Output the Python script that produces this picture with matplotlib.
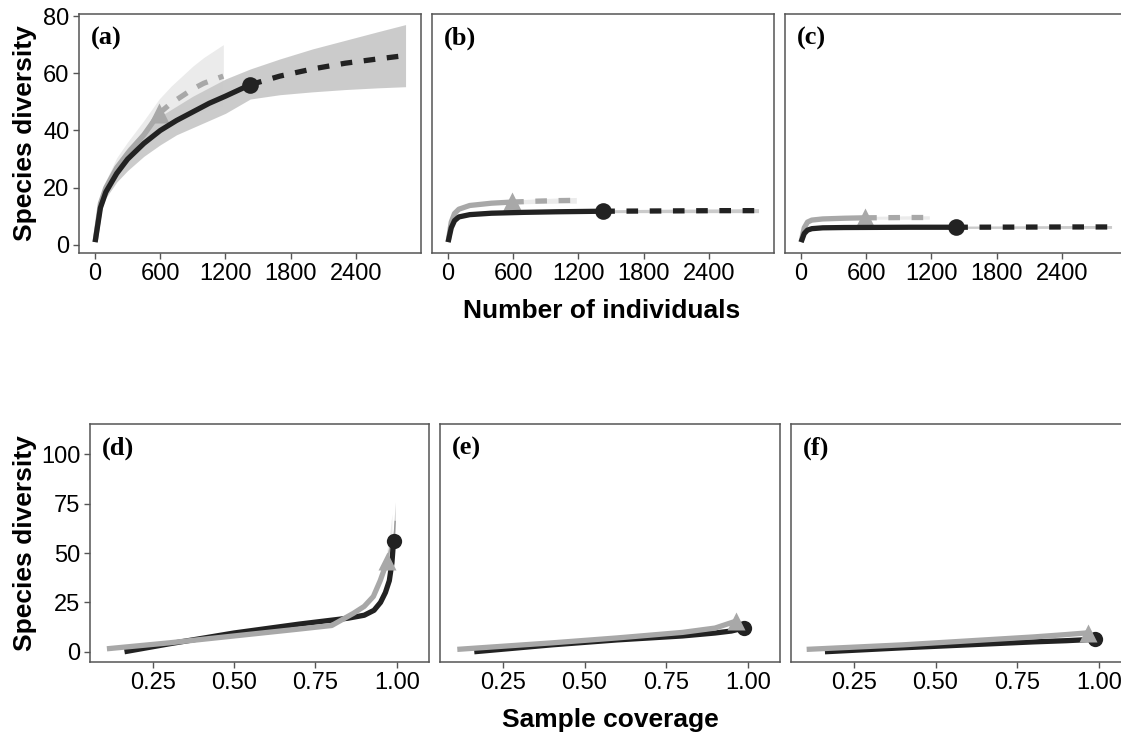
import matplotlib
matplotlib.use("Agg")
import matplotlib.pyplot as plt
import numpy as np

plt.rcParams['font.family'] = ['Liberation Sans', 'DejaVu Sans']

# ---------------- data: size-based (top row) ----------------
# panel (a)
a_blk_n = [1, 50, 100, 200, 300, 450, 600, 750, 900, 1050, 1200, 1428]
a_blk_y = [1, 13, 18.5, 25, 30, 35.5, 40, 43.5, 46.5, 49.5, 52, 56]
a_blk_ext_n = [1428, 1700, 2000, 2300, 2600, 2856]
a_blk_ext_y = [56, 59, 61.5, 63.5, 65, 66.2]
a_blk_ci_n = [1, 50, 100, 200, 300, 450, 600, 750, 900, 1050, 1200, 1428, 1700, 2000, 2300, 2600, 2856]
a_blk_lo = [1, 11.5, 16.5, 22, 26, 31, 35, 38.5, 41, 43.5, 46, 51, 52.5, 53.5, 54.3, 54.9, 55.3]
a_blk_hi = [1, 14.5, 20.5, 28, 34, 40, 45, 48.5, 52, 55, 58, 61.5, 65, 68.5, 71.5, 74.5, 77]
a_gry_n = [1, 50, 100, 200, 300, 450, 590]
a_gry_y = [1, 14.5, 20, 27, 32, 38.5, 46]
a_gry_ext_n = [590, 700, 800, 900, 1000, 1180]
a_gry_ext_y = [46, 49.5, 52, 54.5, 56.5, 59]
a_gry_ci_n = [1, 50, 100, 200, 300, 450, 590, 700, 800, 900, 1000, 1180]
a_gry_lo = [1, 12.5, 17.5, 24, 28.5, 34, 39, 41.5, 43.5, 45, 46.5, 48.5]
a_gry_hi = [1, 16.5, 22.5, 30.5, 36, 43.5, 51, 55.5, 59, 62.5, 65.5, 70]

# panel (b)
b_blk_n = [1, 30, 60, 100, 200, 400, 700, 1000, 1428]
b_blk_y = [1, 6, 8.5, 9.8, 10.6, 11.1, 11.4, 11.6, 11.8]
b_blk_ext_n = [1428, 2000, 2500, 2856]
b_blk_ext_y = [11.8, 11.9, 12, 12]
b_blk_ci_n = [1428, 2000, 2500, 2856]
b_blk_lo = [11.3, 11.3, 11.3, 11.3]
b_blk_hi = [12.3, 12.5, 12.6, 12.7]
b_gry_n = [1, 30, 60, 100, 200, 400, 590]
b_gry_y = [1, 8, 11, 12.5, 13.8, 14.6, 15]
b_gry_ext_n = [590, 800, 1000, 1180]
b_gry_ext_y = [15, 15.3, 15.5, 15.6]
b_gry_ci_n = [590, 800, 1000, 1180]
b_gry_lo = [14.3, 14.5, 14.6, 14.6]
b_gry_hi = [15.7, 16.1, 16.4, 16.6]

# panel (c)
c_blk_n = [1, 30, 60, 100, 200, 400, 700, 1000, 1428]
c_blk_y = [1, 4, 5.2, 5.7, 6.0, 6.1, 6.15, 6.2, 6.2]
c_blk_ext_n = [1428, 2000, 2500, 2856]
c_blk_ext_y = [6.2, 6.25, 6.3, 6.3]
c_blk_ci_n = [1428, 2000, 2500, 2856]
c_blk_lo = [5.8, 5.8, 5.8, 5.8]
c_blk_hi = [6.6, 6.7, 6.8, 6.8]
c_gry_n = [1, 30, 60, 100, 200, 400, 590]
c_gry_y = [1, 6, 8, 8.7, 9.1, 9.35, 9.5]
c_gry_ext_n = [590, 800, 1000, 1180]
c_gry_ext_y = [9.5, 9.55, 9.6, 9.6]
c_gry_ci_n = [590, 800, 1000, 1180]
c_gry_lo = [9.0, 9.0, 9.0, 9.0]
c_gry_hi = [10.0, 10.1, 10.2, 10.2]

# ---------------- data: coverage-based (bottom row) ----------------
d_blk_c = [0.163, 0.3, 0.5, 0.7, 0.85, 0.9, 0.93, 0.95, 0.965, 0.977, 0.985, 0.99]
d_blk_y = [0, 4, 9.5, 14, 17, 18.5, 21, 25, 30, 36, 45, 56]
d_blk_ext_c = [0.99, 0.993, 0.995]
d_blk_ext_y = [56, 61, 66]
d_blk_ci_c = [0.985, 0.99, 0.993, 0.995]
d_blk_lo = [44, 50, 53, 55]
d_blk_hi = [46, 62, 70, 76]
d_gry_c = [0.109, 0.3, 0.5, 0.7, 0.8, 0.867, 0.9, 0.928, 0.949, 0.962, 0.97]
d_gry_y = [1.5, 4.5, 8, 11.5, 13.3, 19.5, 23, 28, 36, 42, 46]
d_gry_ext_c = [0.97, 0.98, 0.985]
d_gry_ext_y = [46, 53, 59]
d_gry_ci_c = [0.97, 0.98, 0.985]
d_gry_lo = [40, 45, 48]
d_gry_hi = [52, 62, 70]

e_blk_c = [0.162, 0.4, 0.6, 0.8, 0.9, 0.95, 0.988]
e_blk_y = [0, 3.5, 6, 8, 9.5, 10.5, 12]
e_gry_c = [0.11, 0.4, 0.6, 0.8, 0.9, 0.964]
e_gry_y = [1.2, 4.5, 7, 9.8, 12, 15.5]

f_blk_c = [0.161, 0.4, 0.6, 0.8, 0.9, 0.95, 0.989]
f_blk_y = [0, 2, 3.5, 5, 5.6, 6, 6.3]
f_gry_c = [0.105, 0.4, 0.6, 0.8, 0.9, 0.968]
f_gry_y = [1.2, 3.5, 5.5, 7.5, 8.7, 9.6]

size_ticks = [0, 600, 1200, 1800, 2400]
size_yticks = [0, 20, 40, 60, 80]
cov_ticks = [0.25, 0.50, 0.75, 1.00]
cov_tick_labels = ["0.25", "0.50", "0.75", "1.00"]
cov_yticks = [0, 25, 50, 75, 100]
panel_labels = ["(a)", "(b)", "(c)", "(d)", "(e)", "(f)"]

# ---------------- styling ----------------
BLK = "#222222"
GRY = "#a8a8a8"
BAND_BLK = "#c9c9c9"
BAND_GRY = "#ebebeb"
FRAME = "#555555"
LW = 3.8

W, H = 1121, 735
fig = plt.figure(figsize=(W / 100, H / 100), dpi=100)

def px_axes(l, t, r, b):
    return fig.add_axes([l / W, 1 - b / H, (r - l) / W, (b - t) / H])

top_axes = [px_axes(79, 14, 421, 253), px_axes(432, 14, 774, 253), px_axes(785, 14, 1127, 253)]
bot_axes = [px_axes(90, 424, 429, 662), px_axes(440, 424, 780, 662), px_axes(791, 424, 1131, 662)]

def style(ax, label, show_y):
    for s in ax.spines.values():
        s.set_color(FRAME)
        s.set_linewidth(1.1)
    ax.tick_params(axis='both', direction='out', length=4, width=1, color=FRAME,
                   labelsize=17, labelcolor='black', pad=3)
    if not show_y:
        ax.tick_params(axis='y', left=False, labelleft=False)
    ax.annotate(label, xy=(0, 1), xycoords='axes fraction', xytext=(12, -24),
                textcoords='offset pixels', ha='left', va='center',
                fontsize=19, fontweight='bold', family=['Liberation Serif', 'DejaVu Serif'])

def draw_size(ax, blk, gry, ci_blk, ci_gry):
    ax.fill_between(ci_gry[0], ci_gry[1], ci_gry[2], color=BAND_GRY, lw=0, zorder=1)
    ax.fill_between(ci_blk[0], ci_blk[1], ci_blk[2], color=BAND_BLK, lw=0, zorder=1.5, alpha=0.95)
    ax.plot(gry[0], gry[1], color=GRY, lw=LW, solid_capstyle='butt', zorder=3)
    ax.plot(gry[2], gry[3], color=GRY, lw=LW, dashes=(2.2, 2.2), dash_capstyle='butt', zorder=3)
    ax.plot([gry[0][-1]], [gry[1][-1]], marker='^', ms=14, color=GRY, mec='none', zorder=4)
    ax.plot(blk[0], blk[1], color=BLK, lw=LW, solid_capstyle='butt', zorder=5)
    ax.plot(blk[2], blk[3], color=BLK, lw=LW, dashes=(2.2, 2.2), dash_capstyle='butt', zorder=5)
    ax.plot([blk[0][-1]], [blk[1][-1]], marker='o', ms=12, color=BLK, mec='none', zorder=6)
    ax.set_xlim(-147, 2998)
    ax.set_ylim(-2.8, 80.7)
    ax.set_xticks(size_ticks)
    ax.set_xticklabels([str(t) for t in size_ticks])
    ax.set_yticks(size_yticks)

size_data = [
    ((a_blk_n, a_blk_y, a_blk_ext_n, a_blk_ext_y), (a_gry_n, a_gry_y, a_gry_ext_n, a_gry_ext_y),
     (a_blk_ci_n, a_blk_lo, a_blk_hi), (a_gry_ci_n, a_gry_lo, a_gry_hi)),
    ((b_blk_n, b_blk_y, b_blk_ext_n, b_blk_ext_y), (b_gry_n, b_gry_y, b_gry_ext_n, b_gry_ext_y),
     (b_blk_ci_n, b_blk_lo, b_blk_hi), (b_gry_ci_n, b_gry_lo, b_gry_hi)),
    ((c_blk_n, c_blk_y, c_blk_ext_n, c_blk_ext_y), (c_gry_n, c_gry_y, c_gry_ext_n, c_gry_ext_y),
     (c_blk_ci_n, c_blk_lo, c_blk_hi), (c_gry_ci_n, c_gry_lo, c_gry_hi)),
]

for i, (ax, d) in enumerate(zip(top_axes, size_data)):
    draw_size(ax, *d)
    style(ax, panel_labels[i], i == 0)

def draw_cov(ax, blk_c, blk_y, gry_c, gry_y, extra=None):
    if extra is not None:
        (bci, blo, bhi, gci, glo, ghi, bex_c, bex_y, gex_c, gex_y) = extra
        ax.fill_between(gci, glo, ghi, color=BAND_GRY, lw=0, zorder=1)
        ax.fill_between(bci, blo, bhi, color=BAND_BLK, lw=0, zorder=1.5)
        ax.plot(gex_c, gex_y, color=GRY, lw=1.2, zorder=2)
        ax.plot(bex_c, bex_y, color="#999999", lw=1.0, zorder=2)
    ax.plot(blk_c, blk_y, color=BLK, lw=LW, solid_capstyle='butt', zorder=3)
    ax.plot(gry_c, gry_y, color=GRY, lw=LW, solid_capstyle='butt', zorder=4)
    ax.plot([blk_c[-1]], [blk_y[-1]], marker='o', ms=11, color=BLK, mec='none', zorder=5)
    ax.plot([gry_c[-1]], [gry_y[-1]], marker='^', ms=13, color=GRY, mec='none', zorder=6)
    ax.set_xlim(0.057, 1.099)
    ax.set_ylim(-5.2, 115.4)
    ax.set_xticks(cov_ticks)
    ax.set_xticklabels(cov_tick_labels)
    ax.set_yticks(cov_yticks)

draw_cov(bot_axes[0], d_blk_c, d_blk_y, d_gry_c, d_gry_y,
         extra=(d_blk_ci_c, d_blk_lo, d_blk_hi, d_gry_ci_c, d_gry_lo, d_gry_hi,
                d_blk_ext_c, d_blk_ext_y, d_gry_ext_c, d_gry_ext_y))
draw_cov(bot_axes[1], e_blk_c, e_blk_y, e_gry_c, e_gry_y)
draw_cov(bot_axes[2], f_blk_c, f_blk_y, f_gry_c, f_gry_y)
for i, ax in enumerate(bot_axes):
    style(ax, panel_labels[3 + i], i == 0)

# axis titles
fig.text(25 / W, 1 - 133 / H, "Species diversity", rotation=90, ha='center', va='center',
         fontsize=19, fontweight='bold')
fig.text(25 / W, 1 - 543 / H, "Species diversity", rotation=90, ha='center', va='center',
         fontsize=19, fontweight='bold')
fig.text(602 / W, 1 - 311 / H, "Number of individuals", ha='center', va='center',
         fontsize=19, fontweight='bold')
fig.text(610 / W, 1 - 720 / H, "Sample coverage", ha='center', va='center',
         fontsize=19, fontweight='bold')

fig.savefig("out.png", dpi=100)
